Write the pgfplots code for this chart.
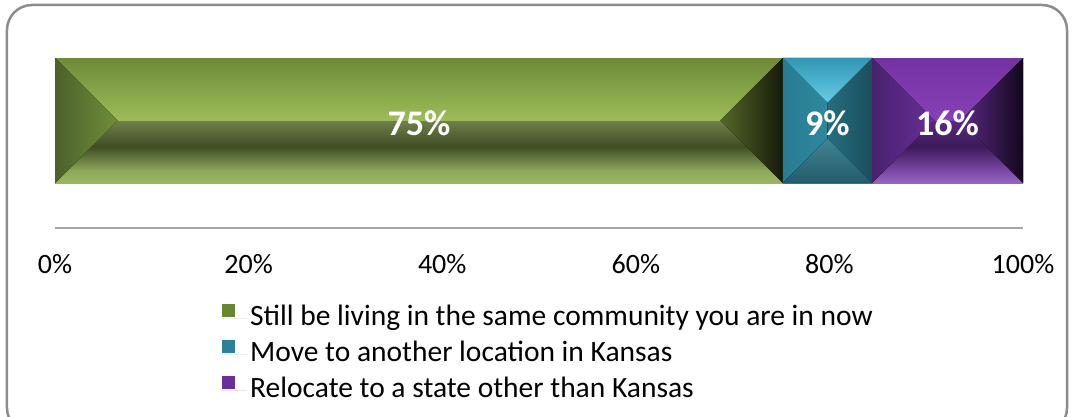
\documentclass[border=0pt]{standalone}
\usepackage{fontspec}
\setmainfont{Carlito}
\usepackage{pgfplots}
\pgfplotsset{compat=1.18}

\definecolor{gmark}{RGB}{104,134,52}
\definecolor{bmark}{RGB}{45,128,152}
\definecolor{pmark}{RGB}{108,46,156}

% bar shades, bottom (25bp) to top (75bp)
\pgfdeclareverticalshading{greenbar}{100bp}{%
  rgb(0bp)=(0.60,0.72,0.38); rgb(25bp)=(0.60,0.72,0.38);
  rgb(30bp)=(0.55,0.66,0.35); rgb(39.5bp)=(0.25,0.30,0.14);
  rgb(49.8bp)=(0.43,0.50,0.29); rgb(50.2bp)=(0.61,0.74,0.35);
  rgb(75bp)=(0.43,0.54,0.21); rgb(100bp)=(0.43,0.54,0.21)}
\pgfdeclareverticalshading{bluebar}{100bp}{%
  rgb(0bp)=(0.24,0.56,0.64); rgb(25bp)=(0.24,0.56,0.64);
  rgb(30bp)=(0.16,0.40,0.47); rgb(40bp)=(0.17,0.44,0.51);
  rgb(49.8bp)=(0.20,0.50,0.58); rgb(50.2bp)=(0.25,0.62,0.73);
  rgb(58bp)=(0.33,0.72,0.83); rgb(75bp)=(0.18,0.55,0.64); rgb(100bp)=(0.18,0.55,0.64)}
\pgfdeclareverticalshading{purplebar}{100bp}{%
  rgb(0bp)=(0.58,0.40,0.76); rgb(25bp)=(0.58,0.40,0.76);
  rgb(30bp)=(0.48,0.28,0.65); rgb(39.5bp)=(0.24,0.10,0.35);
  rgb(49.8bp)=(0.35,0.16,0.50); rgb(50.2bp)=(0.53,0.25,0.72);
  rgb(75bp)=(0.45,0.20,0.64); rgb(100bp)=(0.45,0.20,0.64)}

\begin{document}
\begin{tikzpicture}
\useasboundingbox (-55bp,-189bp) rectangle (1017bp,228bp);
\draw[rounded corners=25bp, line width=2.5bp, color=black!45]
  (-48bp,223bp) rectangle (1012bp,-205bp);
\begin{axis}[
  xbar stacked, scale only axis,
  width=968bp, height=215bp,
  xmin=0, xmax=100, ymin=-1, ymax=1,
  bar width=125bp,
  axis y line=none, axis x line*=bottom,
  x axis line style={draw=black!35, line width=1.5bp},
  xtick={0,20,40,60,80,100},
  xticklabels={0\%,20\%,40\%,60\%,80\%,100\%},
  major tick length=0pt,
  xticklabel style={anchor=base, yshift=-45bp, font=\fontsize{28bp}{32bp}\selectfont},
  legend style={at={(0.1725,-0.343)}, anchor=north west, draw=none, fill=none,
    inner sep=0pt, row sep=3bp, font=\fontsize{29.5bp}{34bp}\selectfont,
    nodes={inner sep=3bp, text height=21bp, text depth=6bp}},
  legend cell align=left,
  legend image code/.code={%
    \path[#1] (0bp,1bp) rectangle (13bp,14bp);
    \path (0bp,0bp) -- (25bp,0bp);},
]
\addplot[draw=none, shading=greenbar, forget plot] coordinates {(75.2,0)};
\addplot[draw=none, shading=bluebar, forget plot] coordinates {(9.2,0)};
\addplot[draw=none, shading=purplebar, forget plot] coordinates {(15.6,0)};
\addlegendimage{fill=gmark, draw=none}
\addlegendimage{fill=bmark, draw=none}
\addlegendimage{fill=pmark, draw=none}
\legend{Still be living in the same community you are in now,
  Move to another location in Kansas,
  Relocate to a state other than Kansas}
% segment edges and label spots on the bar's centre line
\coordinate (A) at (axis cs:0,0);
\coordinate (B) at (axis cs:75.2,0);
\coordinate (C) at (axis cs:84.4,0);
\coordinate (D) at (axis cs:100,0);
\coordinate (L1) at (axis cs:37.6,0);
\coordinate (L2) at (axis cs:79.8,0);
\coordinate (L3) at (axis cs:92.2,0);
\end{axis}
% bevel faces of the bars
\def\h{62.5bp}
\fill[left color={rgb,255:red,76;green,96;blue,44}, right color={rgb,255:red,112;green,142;blue,58}]
  ([yshift=\h]A) -- ([xshift=\h]A) -- ([yshift=-\h]A) -- cycle;
\fill[left color={rgb,255:red,84;green,104;blue,40}, right color={rgb,255:red,22;green,26;blue,10}]
  ([yshift=\h]B) -- ([xshift=-\h]B) -- ([yshift=-\h]B) -- cycle;
% blue: four faces meeting on a short ridge
\fill[left color={rgb,255:red,40;green,124;blue,146}, right color={rgb,255:red,46;green,136;blue,158}]
  ([yshift=\h]B) -- ([xshift=44.5bp,yshift=18bp]B) -- ([xshift=44.5bp,yshift=-18bp]B) -- ([yshift=-\h]B) -- cycle;
\fill[left color={rgb,255:red,38;green,110;blue,128}, right color={rgb,255:red,26;green,78;blue,92}]
  ([yshift=\h]C) -- ([xshift=-44.5bp,yshift=18bp]C) -- ([xshift=-44.5bp,yshift=-18bp]C) -- ([yshift=-\h]C) -- cycle;
\fill[top color={rgb,255:red,48;green,150;blue,178}, bottom color={rgb,255:red,104;green,204;blue,230}]
  ([yshift=\h]B) -- ([yshift=\h]C) -- ([xshift=-44.5bp,yshift=18bp]C) -- cycle;
\fill[top color={rgb,255:red,66;green,132;blue,146}, bottom color={rgb,255:red,34;green,92;blue,108}]
  ([yshift=-\h]B) -- ([yshift=-\h]C) -- ([xshift=-44.5bp,yshift=-18bp]C) -- cycle;
% purple
\fill[left color={rgb,255:red,72;green,34;blue,108}, right color={rgb,255:red,104;green,46;blue,152}]
  ([yshift=\h]C) -- ([xshift=\h]C) -- ([yshift=-\h]C) -- cycle;
\fill[left color={rgb,255:red,92;green,40;blue,134}, right color={rgb,255:red,18;green,8;blue,28}]
  ([yshift=\h]D) -- ([xshift=-\h]D) -- ([yshift=-\h]D) -- cycle;
% value labels
\foreach \p/\t in {L1/75, L2/9, L3/16}
  \node[text=white, font=\bfseries\fontsize{36bp}{40bp}\selectfont, yshift=-3bp] at (\p) {\t\%};
\end{tikzpicture}
\end{document}
